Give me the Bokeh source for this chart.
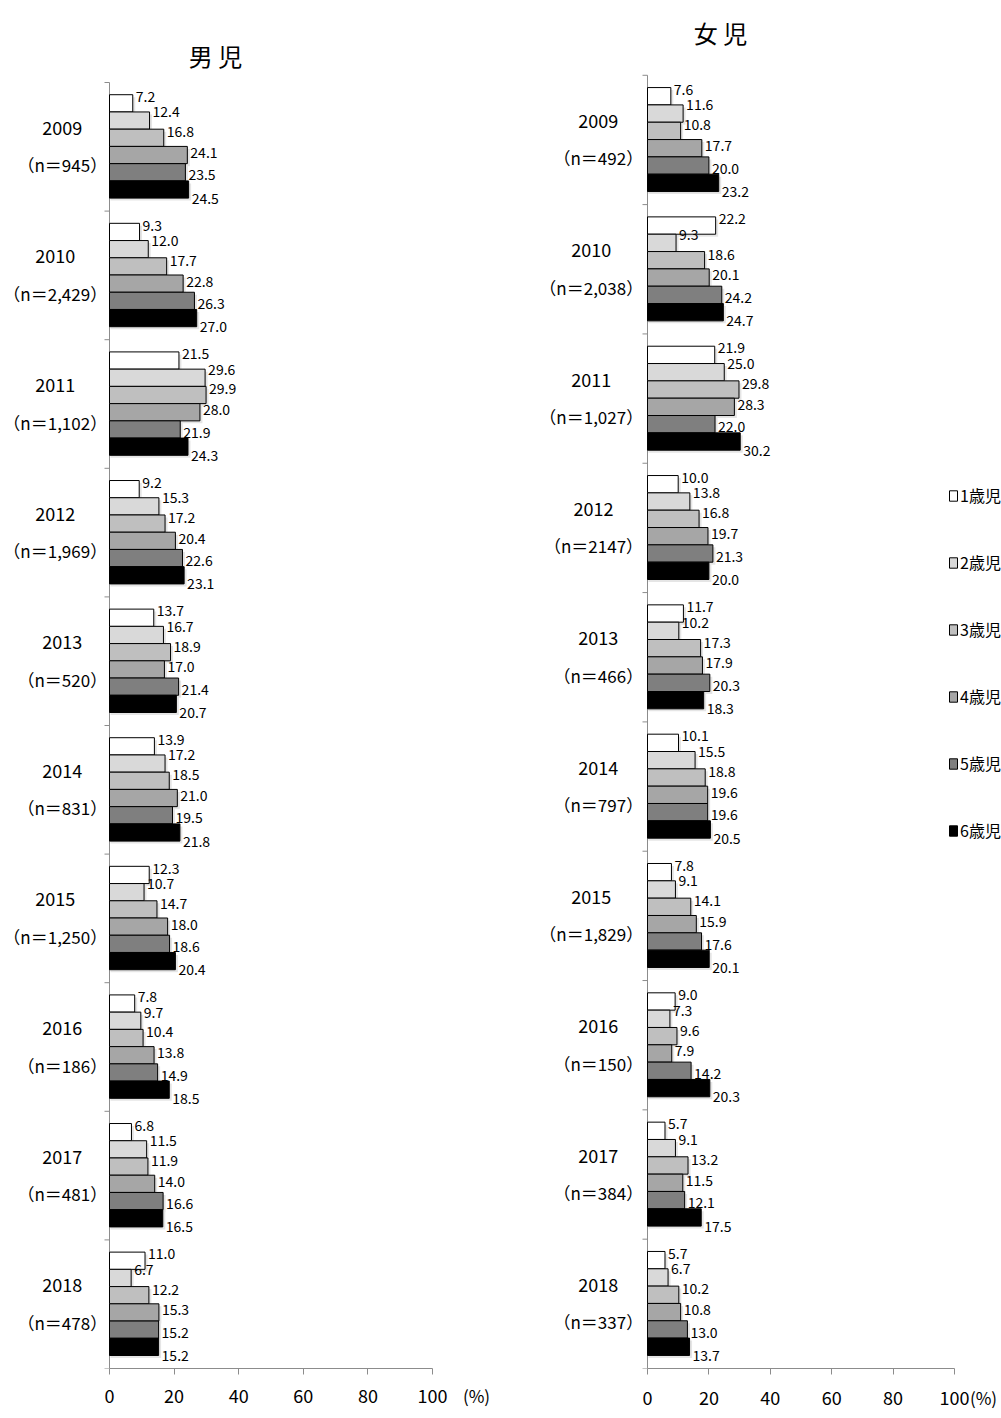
from bokeh.plotting import figure
from bokeh.models import (Range1d, FixedTicker, ColumnDataSource, Legend, LegendItem,
                          LinearAxis)
from bokeh.layouts import row
from bokeh.embed import file_html
from bokeh.resources import INLINE
from bokeh.core.properties import value

# ---------------- data ----------------
years = ["2009", "2010", "2011", "2012", "2013", "2014", "2015", "2016", "2017", "2018"]
age_labels = ["1歳児", "2歳児", "3歳児", "4歳児", "5歳児", "6歳児"]

boys_n = ["945", "2,429", "1,102", "1,969", "520", "831", "1,250", "186", "481", "478"]
girls_n = ["492", "2,038", "1,027", "2147", "466", "797", "1,829", "150", "384", "337"]

boys_age1 = [7.2, 9.3, 21.5, 9.2, 13.7, 13.9, 12.3, 7.8, 6.8, 11.0]
boys_age2 = [12.4, 12.0, 29.6, 15.3, 16.7, 17.2, 10.7, 9.7, 11.5, 6.7]
boys_age3 = [16.8, 17.7, 29.9, 17.2, 18.9, 18.5, 14.7, 10.4, 11.9, 12.2]
boys_age4 = [24.1, 22.8, 28.0, 20.4, 17.0, 21.0, 18.0, 13.8, 14.0, 15.3]
boys_age5 = [23.5, 26.3, 21.9, 22.6, 21.4, 19.5, 18.6, 14.9, 16.6, 15.2]
boys_age6 = [24.5, 27.0, 24.3, 23.1, 20.7, 21.8, 20.4, 18.5, 16.5, 15.2]

girls_age1 = [7.6, 22.2, 21.9, 10.0, 11.7, 10.1, 7.8, 9.0, 5.7, 5.7]
girls_age2 = [11.6, 9.3, 25.0, 13.8, 10.2, 15.5, 9.1, 7.3, 9.1, 6.7]
girls_age3 = [10.8, 18.6, 29.8, 16.8, 17.3, 18.8, 14.1, 9.6, 13.2, 10.2]
girls_age4 = [17.7, 20.1, 28.3, 19.7, 17.9, 19.6, 15.9, 7.9, 11.5, 10.8]
girls_age5 = [20.0, 24.2, 22.0, 21.3, 20.3, 19.6, 17.6, 14.2, 12.1, 13.0]
girls_age6 = [23.2, 24.7, 30.2, 20.0, 18.3, 20.5, 20.1, 20.3, 17.5, 13.7]

x_ticks = [0, 20, 40, 60, 80, 100]

# ---------------- style ----------------
colors = ["#ffffff", "#d9d9d9", "#bfbfbf", "#a6a6a6", "#7f7f7f", "#000000"]
FONT = "Noto Sans CJK JP, sans-serif"
AXIS_C = "#8c8c8c"
BAR_OFF = 0.095      # gap at the top of each year group (group units)
BAR_H = 0.134        # height of one bar (group units)
LABEL_FRAC = [0.1, 0.0, 0.15, 0.35, 0.65, 1.0]   # vertical placement of value labels
GROUP_FS = 17


def text_width(s, fs):
    w = 0.0
    for ch in s:
        if ord(ch) > 0x2000:
            w += 1.0
        elif ch in ",.":
            w += 0.27
        else:
            w += 0.56
    return w * fs


def make_panel(title, series, n_labels, fig_w, fig_h, x0, y0, fw, fh,
               title_px, n_right_px, pct_px, tick_standoff, legend_px=None):
    pxu = fw / 100.0          # px per data unit (x)
    gh = fh / 10.0            # px per year group
    bottom = fig_h - y0 - fh

    p = figure(width=fig_w, height=fig_h, output_backend="svg", toolbar_location=None,
               x_range=Range1d(-x0 / pxu, (fig_w - x0) / pxu),
               y_range=Range1d(10, -y0 / gh),
               min_border_left=0, min_border_top=0, min_border_right=0,
               min_border_bottom=bottom)
    p.outline_line_color = None
    p.xgrid.visible = False
    p.ygrid.visible = False
    p.yaxis.visible = False
    p.background_fill_color = "white"
    p.border_fill_color = "white"

    # x axis (0 - 100 only)
    ax = p.xaxis[0]
    ax.bounds = (0, 100)
    ax.ticker = FixedTicker(ticks=x_ticks)
    ax.axis_line_color = AXIS_C
    ax.major_tick_line_color = AXIS_C
    ax.major_tick_out = 6
    ax.major_tick_in = 0
    ax.minor_tick_line_color = None
    ax.major_label_text_font = FONT
    ax.major_label_text_font_size = "18px"
    ax.major_label_text_color = "black"
    ax.major_label_standoff = tick_standoff

    # unit label "(%)" on a second, line-less axis pulled up next to the tick labels
    pct_x = round(pct_px / pxu, 2)
    ax2 = LinearAxis(ticker=FixedTicker(ticks=[pct_x]),
                     major_label_overrides={pct_x: "(%)"},
                     axis_line_color=None, major_tick_line_color=None,
                     minor_tick_line_color=None, major_tick_out=0, major_tick_in=0,
                     major_label_standoff=-23,
                     major_label_text_font=FONT, major_label_text_font_size="17px",
                     major_label_text_color="black")
    p.add_layout(ax2, "below")

    # vertical axis line with separator ticks between year groups
    p.segment(x0=[0], y0=[0], x1=[0], y1=[10], line_color=AXIS_C, line_width=1)
    p.segment(x0=[-5 / pxu] * 11, y0=list(range(11)), x1=[0] * 11, y1=list(range(11)),
              line_color=AXIS_C, line_width=1)

    renderers = []
    for j, vals in enumerate(series):
        ys = [i + BAR_OFF + (j + 0.5) * BAR_H for i in range(len(vals))]
        ly = [i + BAR_OFF + (j + LABEL_FRAC[j]) * BAR_H for i in range(len(vals))]
        src = ColumnDataSource(dict(
            y=ys, v=vals, ly=ly,
            sy=[y + 2.5 / gh for y in ys],
            sv=[v + 2.5 / pxu for v in vals],
            t=[f"{v:.1f}" for v in vals]))
        p.hbar(y="sy", left=0.3, right="sv", height=BAR_H, source=src,
               fill_color="black", fill_alpha=0.10, line_color=None)
        r = p.hbar(y="y", left=0, right="v", height=BAR_H, source=src,
                   fill_color=colors[j], line_color="black", line_width=1)
        renderers.append(r)
        p.text(x="v", y="ly", text="t", source=src, x_offset=3,
               text_font=value(FONT), text_font_size="14px",
               text_baseline="middle", text_align="left", text_color="black")

    # year / n labels to the left of the axis
    n_text = [f"（n＝{n}）" for n in n_labels]
    cx = []
    for t in n_text:
        w = text_width(t, GROUP_FS)
        cx.append((n_right_px + 0.55 * GROUP_FS - w / 2) / pxu)
    lab_src = ColumnDataSource(dict(
        x=cx, yy=[i + 0.5 - 19.0 / gh for i in range(10)],
        yn=[i + 0.5 + 18.0 / gh for i in range(10)],
        year=years, nt=n_text))
    p.text(x="x", y="yy", text="year", source=lab_src,
           text_font=value(FONT), text_font_size=f"{GROUP_FS + 1}px", text_align="center",
           text_baseline="middle", text_color="black")
    p.text(x="x", y="yn", text="nt", source=lab_src,
           text_font=value(FONT), text_font_size=f"{GROUP_FS}px", text_align="center",
           text_baseline="middle", text_color="black")

    # title
    p.text(x=[title_px[0] / pxu], y=[-title_px[1] / gh], text=[title],
           text_font=value(FONT), text_font_size="24px", text_align="center",
           text_baseline="middle", text_color="black")

    if legend_px is not None:
        lg = Legend(items=[LegendItem(label=age_labels[j], renderers=[renderers[j]])
                           for j in range(6)],
                    location=legend_px, orientation="vertical",
                    padding=0, margin=0, spacing=43, label_standoff=2,
                    glyph_width=10, glyph_height=13, label_height=20,
                    label_text_font=FONT, label_text_font_size="16px",
                    label_text_color="black",
                    border_line_color=None, background_fill_alpha=0)
        p.add_layout(lg, "center")
    return p


boys = [boys_age1, boys_age2, boys_age3, boys_age4, boys_age5, boys_age6]
girls = [girls_age1, girls_age2, girls_age3, girls_age4, girls_age5, girls_age6]

p_left = make_panel("男 児", boys, boys_n,
                    fig_w=500, fig_h=1417, x0=109, y0=82, fw=323, fh=1286,
                    title_px=(106, 27), n_right_px=-12, pct_px=367,
                    tick_standoff=14)
p_right = make_panel("女 児", girls, girls_n,
                     fig_w=501, fig_h=1417, x0=147, y0=75, fw=307, fh=1297,
                     title_px=(73, 43), n_right_px=-14, pct_px=336,
                     tick_standoff=16, legend_px=(448, 526))

layout = row(p_left, p_right)
open("out.html", "w").write(file_html(layout, INLINE))
